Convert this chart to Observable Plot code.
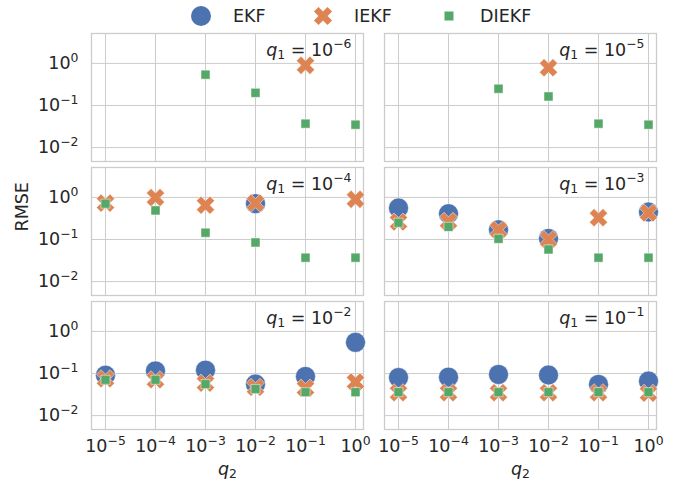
<!DOCTYPE html>
<html>
<head>
<meta charset="utf-8">
<script src="https://cdn.jsdelivr.net/npm/d3@7"></script>
<script src="https://cdn.jsdelivr.net/npm/@observablehq/plot@0.6"></script>
<style>
  html, body { margin: 0; padding: 0; background: white; }
  #wrap { position: relative; width: 686px; height: 483px; font-family: "DejaVu Sans", sans-serif; color: #262626; }
  #legend { position: absolute; left: 0; top: 0; width: 686px; height: 32px; }
  #chart { position: absolute; left: 0; top: 0; }
</style>
</head>
<body>
<div id="wrap">
  <div id="chart"></div>
  <svg id="legend" width="686" height="32"></svg>
</div>
<script>
// ---- data ----
const q2Values = [1e-5, 1e-4, 1e-3, 1e-2, 1e-1, 1];
const q1Exponents = [-6, -5, -4, -3, -2, -1];
const methods = ["EKF", "IEKF", "DIEKF"];
const colors = ["#4C72B0", "#DD8452", "#55A868"];
// RMSE per panel (row order = q1Exponents), per q2 value; null = not shown
const ekf = [
  [null, null, null, null, null, null],
  [null, null, null, null, null, null],
  [null, null, null, 0.71, null, null],
  [0.56, 0.41, 0.17, 0.106, null, 0.45],
  [0.091, 0.115, 0.12, 0.056, 0.085, 0.55],
  [0.08, 0.082, 0.095, 0.092, 0.055, 0.066]
];
const iekf = [
  [null, null, null, null, 0.9, null],
  [null, null, null, 0.79, null, null],
  [0.73, 0.99, 0.65, 0.73, null, 0.9],
  [0.26, 0.27, 0.17, 0.10, 0.33, 0.43],
  [0.075, 0.071, 0.059, 0.047, 0.045, 0.063],
  [0.035, 0.035, 0.035, 0.035, 0.035, 0.034]
];
const diekf = [
  [null, null, 0.54, 0.20, 0.037, 0.035],
  [null, null, 0.25, 0.164, 0.037, 0.035],
  [0.71, 0.49, 0.145, 0.085, 0.037, 0.037],
  [0.25, 0.20, 0.104, 0.058, 0.037, 0.037],
  [0.071, 0.071, 0.056, 0.043, 0.036, 0.036],
  [0.036, 0.036, 0.036, 0.036, 0.036, 0.036]
];
const xTicks = [1e-5, 1e-4, 1e-3, 1e-2, 1e-1, 1];
const yTicks = [1e-2, 1e-1, 1];

// ---- build table ----
function rowsFor(series, method) {
  const out = [];
  series.forEach((vals, i) => {
    vals.forEach((v, j) => {
      if (v != null) out.push({method, q1: q1Exponents[i], col: i % 2, row: Math.floor(i / 2), q2: q2Values[j], rmse: v});
    });
  });
  return out;
}
const ekfRows = rowsFor(ekf, "EKF");
const iekfRows = rowsFor(iekf, "IEKF");
const diekfRows = rowsFor(diekf, "DIEKF");
const panels = q1Exponents.map((e, i) => ({q1: e, col: i % 2, row: Math.floor(i / 2)}));

const MINUS = "\u2212";
const expStr = (e) => (e < 0 ? MINUS + (-e) : String(e));
const powFmt = (d) => "10^" + expStr(Math.round(Math.log10(d)));

const xSymbol = {
  draw(ctx, size) {
    const R = Math.sqrt(size / Math.PI);
    const a = R * 1.063, t = R * 0.36;
    const pts = [[t,a],[t,t],[a,t],[a,-t],[t,-t],[t,-a],[-t,-a],[-t,-t],[-a,-t],[-a,t],[-t,t],[-t,a]];
    const c = Math.SQRT1_2;
    pts.forEach(([x, y], i) => {
      const X = (x - y) * c, Y = (x + y) * c;
      if (i) ctx.lineTo(X, Y); else ctx.moveTo(X, Y);
    });
    ctx.closePath();
  }
};

const FS = 17.5;
const grid = "#cccccc";

const chart = Plot.plot({
  width: 686, height: 483,
  marginLeft: 91, marginRight: 30, marginTop: 33, marginBottom: 54,
  style: {fontFamily: "DejaVu Sans", fontSize: FS + "px", color: "#262626", background: "white", overflow: "visible"},
  x: {type: "log", domain: [10 ** -5.28, 10 ** 0.16]},
  y: {type: "log", domain: [10 ** -2.33, 10 ** 0.71]},
  fx: {domain: [0, 1], paddingInner: 0.0717, paddingOuter: 0, axis: null, round: false},
  fy: {domain: [0, 1, 2], paddingInner: 0.0448, paddingOuter: 0, axis: null, round: false},
  marks: [
    Plot.gridX(xTicks, {stroke: grid, strokeOpacity: 1, strokeWidth: 1}),
    Plot.gridY(yTicks, {stroke: grid, strokeOpacity: 1, strokeWidth: 1}),
    Plot.frame({stroke: grid, strokeWidth: 1.3}),
    Plot.axisX({ticks: xTicks, tickFormat: powFmt, tickSize: 0, tickPadding: 10, fontSize: FS, label: null}),
    Plot.axisY({ticks: yTicks, tickFormat: powFmt, tickSize: 0, tickPadding: 13, fontSize: FS, label: null}),
    Plot.dot(ekfRows, {x: "q2", y: "rmse", fx: "col", fy: "row", r: 10, fill: colors[0], stroke: "white", strokeWidth: 0.5}),
    Plot.dot(iekfRows, {x: "q2", y: "rmse", fx: "col", fy: "row", r: 9, symbol: xSymbol, fill: colors[1], stroke: "white", strokeWidth: 0.5}),
    Plot.dot(diekfRows, {x: "q2", y: "rmse", fx: "col", fy: "row", r: 5.1, symbol: "square", fill: colors[2], stroke: "white", strokeWidth: 0.5}),
    Plot.text(panels, {fx: "col", fy: "row", text: (d) => "Q1:" + expStr(d.q1), frameAnchor: "top-right", textAnchor: "end", lineAnchor: "bottom", dx: -12, dy: 22, fontSize: FS, fill: "#262626"}),
    Plot.text([0, 1], {fx: (d) => d, fy: () => 2, text: () => "Q2LABEL", frameAnchor: "bottom", lineAnchor: "bottom", dy: 45, fontSize: FS, fill: "#262626"}),
    Plot.text(["RMSE"], {fx: () => 0, fy: () => 1, text: (d) => d, frameAnchor: "left", rotate: -90, lineAnchor: "middle", dx: -69, fontSize: FS, fill: "#262626"})
  ]
});
document.getElementById("chart").appendChild(chart);

// ---- typeset math-like labels as tspans ----
const svgNS = "http://www.w3.org/2000/svg";
function ts(parent, text, attrs) {
  const t = document.createElementNS(svgNS, "tspan");
  t.textContent = text;
  for (const k in attrs) t.setAttribute(k, attrs[k]);
  parent.appendChild(t);
  return t;
}
const SUP = Math.round(FS * 0.71 * 10) / 10;
chart.querySelectorAll("text").forEach((el) => {
  const s = el.textContent;
  let m;
  if ((m = s.match(/^10\^(.+)$/))) {
    el.textContent = "";
    ts(el, "10", {});
    ts(el, m[1], {dy: -FS * 0.42, "font-size": SUP});
  } else if ((m = s.match(/^Q1:(.+)$/))) {
    el.textContent = "";
    ts(el, "q", {"font-style": "italic"});
    ts(el, "1", {dy: FS * 0.22, "font-size": SUP});
    ts(el, " = 10", {dy: -FS * 0.22});
    ts(el, m[1], {dy: -FS * 0.42, "font-size": SUP});
  } else if (s === "Q2LABEL") {
    el.textContent = "";
    ts(el, "q", {"font-style": "italic"});
    ts(el, "2", {dy: FS * 0.22, "font-size": SUP});
  }
});

// ---- legend ----
const leg = d3.select("#legend");
const ly = 16;
const items = [
  {name: methods[0], cx: 201, tx: 233},
  {name: methods[1], cx: 323, tx: 354},
  {name: methods[2], cx: 449, tx: 480}
];
leg.append("circle").attr("cx", items[0].cx).attr("cy", ly).attr("r", 10).attr("fill", colors[0]);
leg.append("path").attr("transform", `translate(${items[1].cx},${ly})`)
  .attr("d", (() => { const p = d3.path(); xSymbol.draw(p, 81 * Math.PI); return p.toString(); })())
  .attr("fill", colors[1]);
leg.append("rect").attr("x", items[2].cx - 4.5).attr("y", ly - 4.5).attr("width", 9).attr("height", 9).attr("fill", colors[2]);
items.forEach((it) => {
  leg.append("text").attr("x", it.tx).attr("y", ly).attr("dy", "0.35em")
    .attr("font-family", "DejaVu Sans").attr("font-size", FS).attr("fill", "#262626").text(it.name);
});
</script>
</body>
</html>
